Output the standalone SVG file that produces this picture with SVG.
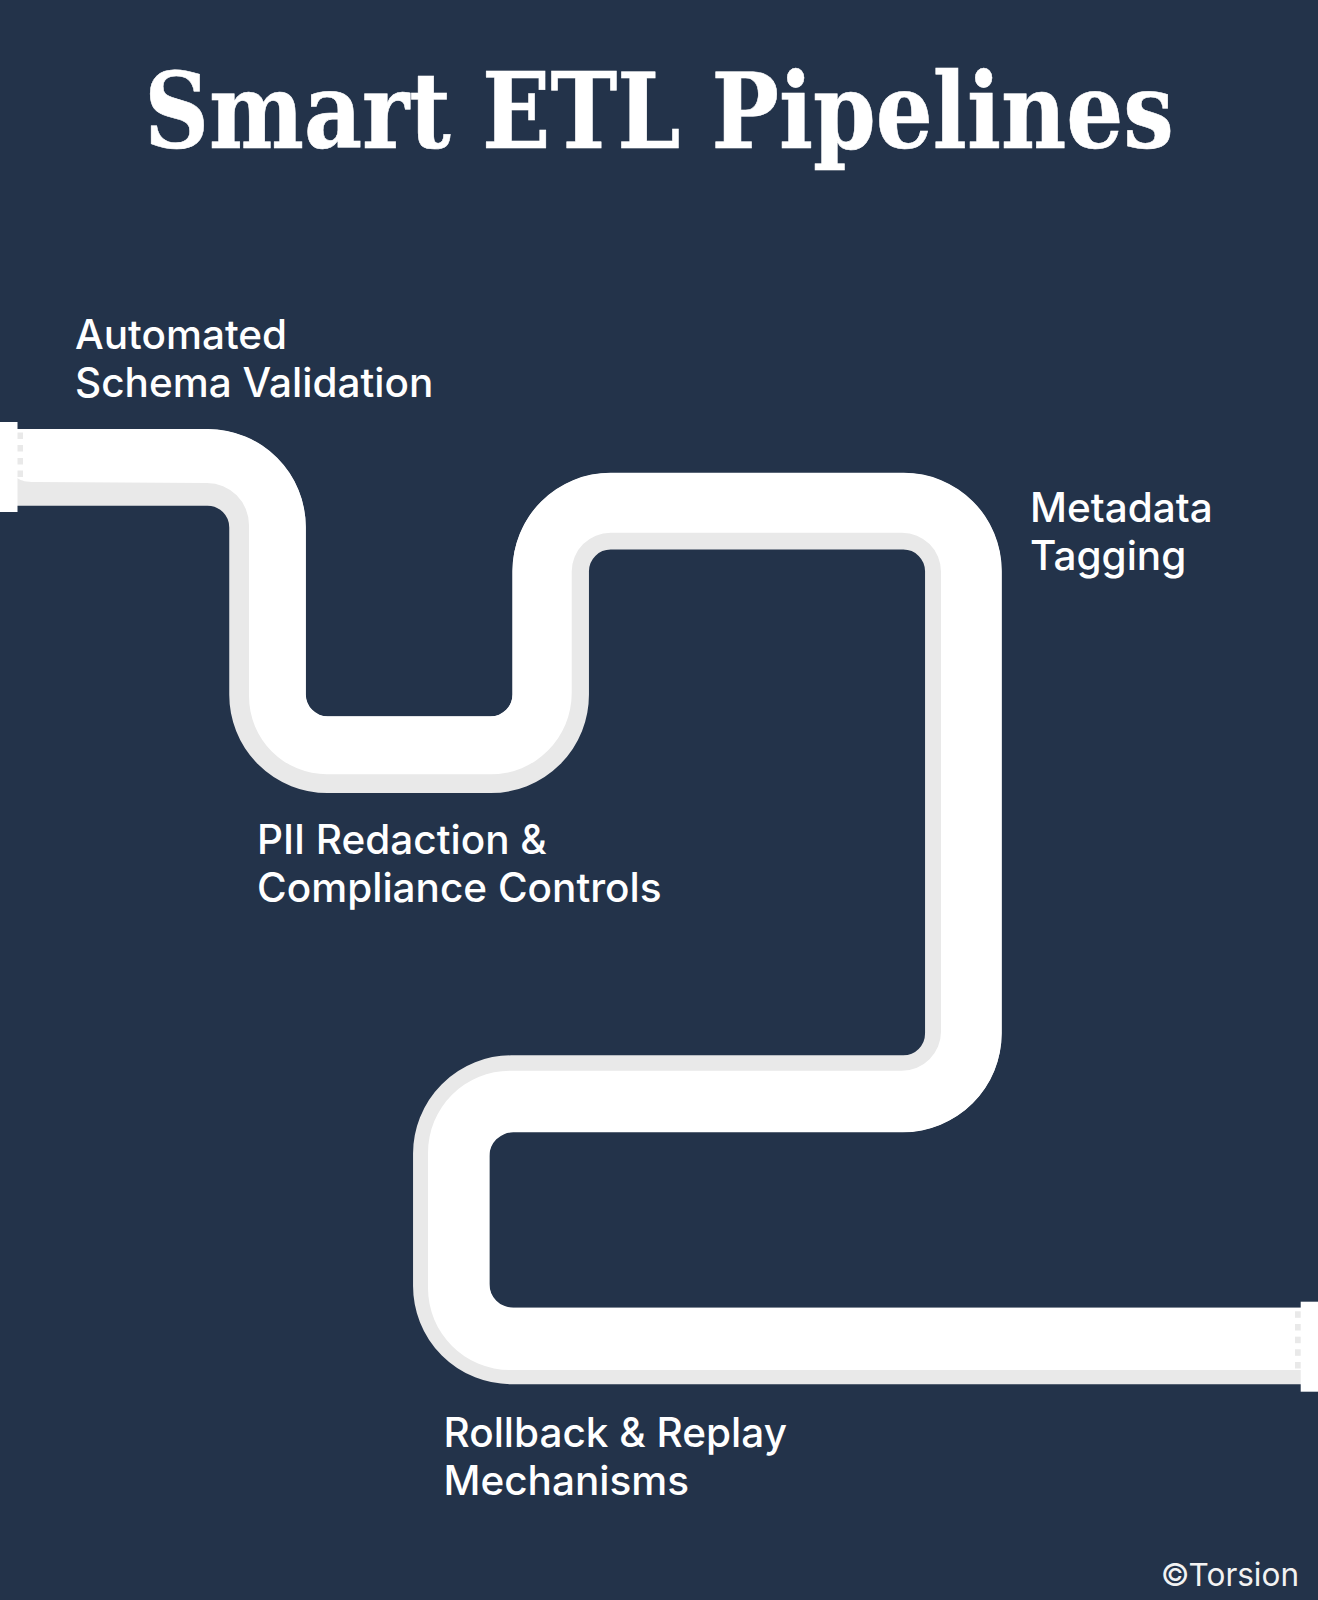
<svg xmlns="http://www.w3.org/2000/svg" width="1318" height="1600" viewBox="0 0 1318 1600">
<style>
.lb{font-family:Inter,"Liberation Sans",sans-serif;font-size:40.5px;fill:#fff;font-weight:450}
.w{fill:#fff}
.g{fill:#e9e9e9}
</style>
<rect width="1318" height="1600" fill="#23334a"/>
<text id="title" transform="translate(659 148) scale(.9 1)" x="0" y="0" text-anchor="middle" font-family="'DejaVu Serif',serif" font-weight="700" font-size="104" fill="#fff" stroke="#fff" stroke-width=".6" textLength="1144" lengthAdjust="spacingAndGlyphs">Smart ETL Pipelines</text>
<g id="pipeline">
<path fill="none" stroke="#e9e9e9" stroke-width="76.5" d="M0 467.5H207.5A60 60 0 0 1 267.5 527.5V694.8A60 60 0 0 0 327.5 754.8H490.7A60 60 0 0 0 550.7 694.8V571.3A60 60 0 0 1 610.7 511.3H903.3A60 60 0 0 1 963.3 571.3V1033.6A60 60 0 0 1 903.3 1093.6H511.3A60 60 0 0 0 451.3 1153.6V1286A60 60 0 0 0 511.3 1346H1318"/>
<path class="w" d="M0 429H208A98 98 0 0 1 305.8 527V694.3A22 22 0 0 0 327.8 716.3H490.5A22 22 0 0 0 512.5 694.3V570.7A98 98 0 0 1 610.5 472.7H903.7A98 98 0 0 1 1001.7 570.7V1033.3A99 99 0 0 1 902.7 1132.3H513.3A24 24 0 0 0 489.3 1156.3V1283.7A24 24 0 0 0 513.3 1307.7H1318V1370H510A82 82 0 0 1 428 1288V1152.7A82 82 0 0 1 510 1070.7H902A39 39 0 0 0 941 1031.7V571.7A39 39 0 0 0 902 532.7H610.7A39 39 0 0 0 571.7 571.7V693.3A81 81 0 0 1 490.7 774.3H327A78 78 0 0 1 249 696.3V525A42 42 0 0 0 207 483L35 482C26 482 22 481 17 478H0Z"/>
</g>
<g id="valve-left">
<rect class="w" x="0" y="422" width="17.5" height="90"/>
<rect class="g" x="17.5" y="432.5" width="5.5" height="6.5"/>
<rect class="g" x="17.5" y="445" width="5.5" height="6.5"/>
<rect class="g" x="17.5" y="458" width="5.5" height="6.5"/>
<rect class="g" x="17.5" y="470.5" width="5.5" height="6.5"/>
</g>
<g id="valve-right">
<rect class="w" x="1300.7" y="1301.7" width="17.3" height="90"/>
<rect class="g" x="1295" y="1311.3" width="5.7" height="6.5"/>
<rect class="g" x="1295" y="1324" width="5.7" height="6.5"/>
<rect class="g" x="1295" y="1336.7" width="5.7" height="6.5"/>
<rect class="g" x="1295" y="1349.3" width="5.7" height="6.5"/>
<rect class="g" x="1295" y="1362" width="5.7" height="6.5"/>
</g>
<g id="label-schema"><text class="lb" x="75" y="349">Automated</text><text class="lb" x="75" y="397">Schema Validation</text></g>
<g id="label-metadata"><text class="lb" x="1030" y="521.5">Metadata</text><text class="lb" x="1030" y="570">Tagging</text></g>
<g id="label-pii"><text class="lb" x="257" y="854">PII Redaction &amp;</text><text class="lb" x="257" y="902">Compliance Controls</text></g>
<g id="label-rollback"><text class="lb" x="443.5" y="1447">Rollback &amp; Replay</text><text class="lb" x="443.5" y="1495">Mechanisms</text></g>
<text id="credit" x="1299" y="1586" text-anchor="end" font-family="Inter,sans-serif" font-size="31.5" fill="#f2f2f2">©Torsion</text>
</svg>
